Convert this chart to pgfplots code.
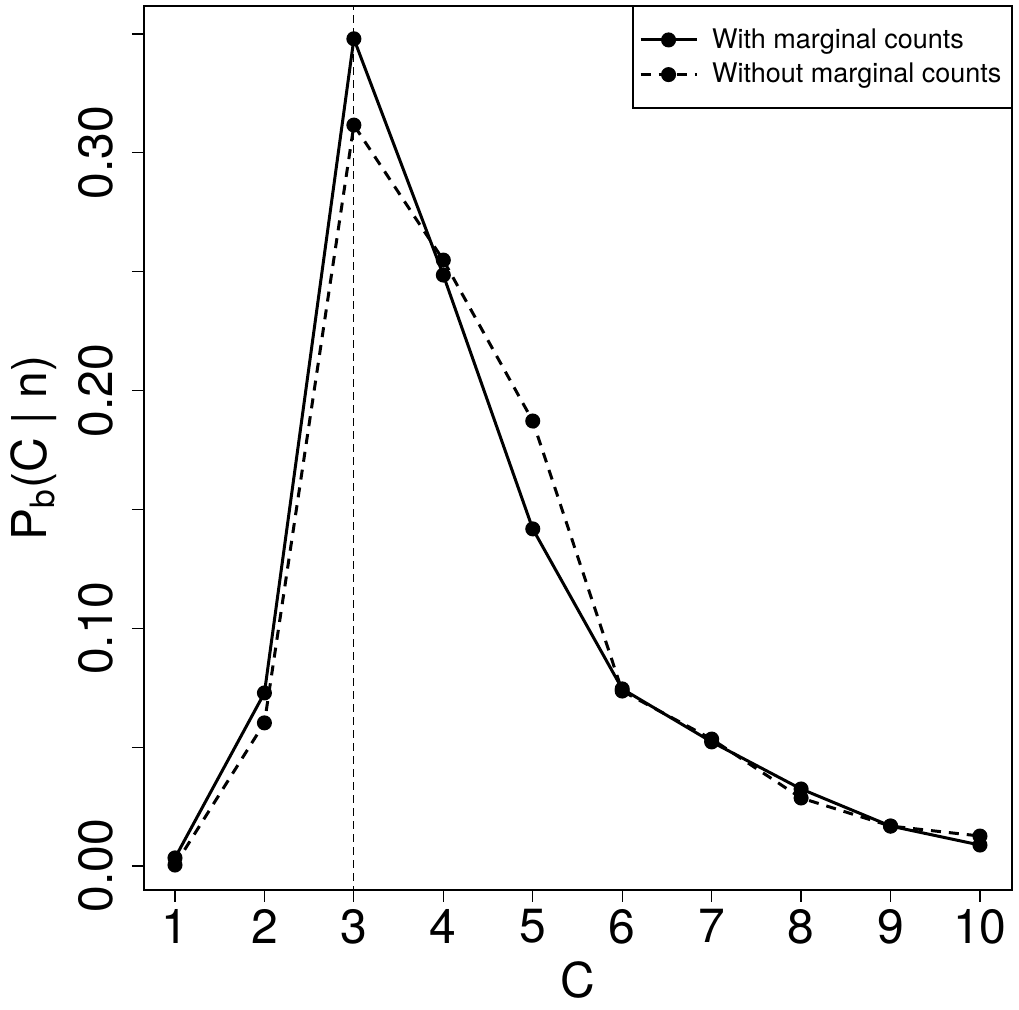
\documentclass[border=0pt]{standalone}
\usepackage{fontspec}
\setmainfont{TeX Gyre Heros}
\usepackage{pgfplots}
\pgfplotsset{compat=1.18}
\begin{document}
\begin{tikzpicture}
\useasboundingbox (-72pt,-60pt) rectangle (437.5pt,445pt);
\begin{axis}[
  at={(0,0)}, anchor=south west,
  scale only axis, width=434pt, height=442pt,
  xmin=0.6534, xmax=10.358,
  ymin=-0.0101, ymax=0.3618,
  axis line style={line width=0.6pt},
  tick style={line width=0.6pt, black},
  tick align=outside, tick pos=left,
  major tick length=6pt,
  xtick={1,2,3,4,5,6,7,8,9,10},
  xticklabels={1,2,3,4,5,6,7,8,9,10},
  ytick={0,0.05,0.10,0.15,0.20,0.25,0.30,0.35},
  yticklabels={0.00,,0.10,,0.20,,0.30,},
  ticklabel style={font=\fontsize{24}{28}\selectfont},
  yticklabel style={rotate=90, anchor=south, yshift=6pt},
  xlabel={C},
  ylabel={P\textsubscript{b}(C | n)},
  label style={font=\fontsize{24}{28}\selectfont, inner sep=1pt},
  xlabel style={yshift=-4.5pt},
  ylabel style={yshift=6pt},
  legend style={at={(1,1)}, anchor=north east, draw=black, line width=0.6pt,
    font=\fontsize{13.5}{16}\selectfont, inner xsep=3pt, inner ysep=9pt, row sep=2pt},
  legend cell align=left,
  legend image code/.code={%
    \draw[mark repeat=2, mark phase=2] plot coordinates {(0pt,0pt) (14pt,0pt) (28pt,0pt)};},
]
\addplot[black, line width=1.5pt, mark=*, mark size=3pt] coordinates {
(1,0.0034) (2,0.0728) (3,0.348) (4,0.2486) (5,0.1418) (6,0.0745) (7,0.0522) (8,0.0324) (9,0.0168) (10,0.0088)};
\addlegendentry{\hspace{5pt}With marginal counts}
\addplot[black, line width=1.5pt, dash pattern=on 5pt off 4pt, mark=*, mark size=3pt, mark options={solid}] coordinates {
(1,0.0004) (2,0.0602) (3,0.3117) (4,0.2549) (5,0.1872) (6,0.0736) (7,0.0534) (8,0.0286) (9,0.0168) (10,0.0126)};
\addlegendentry{\hspace{5pt}Without marginal counts}
\addplot[black, line width=0.6pt, dash pattern=on 4pt off 2.5pt, forget plot] coordinates {(3,-0.05) (3,0.5)};
\end{axis}
\end{tikzpicture}
\end{document}
